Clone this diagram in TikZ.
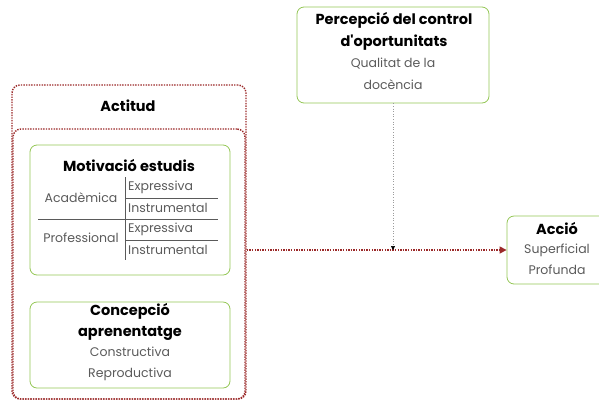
\documentclass[tikz,border=0pt]{standalone}
\usepackage{fontspec}
\setmainfont{Poppins}[Ligatures=TeXOff]
\usepackage{tikz}
\usetikzlibrary{arrows.meta}

\definecolor{verd}{RGB}{148,198,85}
\definecolor{granat}{RGB}{155,42,42}
\definecolor{gris}{RGB}{90,90,90}

\tikzset{
  caixa/.style={draw=verd, line width=0.8pt, rounded corners=7pt},
  puntejat/.style={draw=granat, line width=1.4pt, dash pattern=on 1.4pt off 1.2pt, rounded corners=8pt},
  titol/.style={font=\bfseries\fontsize{14.5}{21.5}\selectfont, inner sep=0pt},
  subtext/.style={text=gris, font=\fontsize{12.5}{21.5}\selectfont, inner sep=0pt},
  celda/.style={text=gris, font=\fontsize{12.5}{15}\selectfont, inner sep=0pt, anchor=west},
}

\begin{document}
\begin{tikzpicture}[x=1pt,y=-1pt]
		\useasboundingbox (0,0) rectangle (599,400);

		% Actitud (caixes puntejades)
		\node[puntejat, minimum width=234, minimum height=314] (actitud) at (129,242) {};
		\node[puntejat, minimum width=232, minimum height=270] (interior) at (129,264) {};
		\node[titol] (tactitud) at (128,106) {Actitud};

		% Motivacio estudis
		\node[caixa, minimum width=200, minimum height=130] (motivacio) at (130,210) {};
		\node[titol] (tmotivacio) at (129,166) {Motivació estudis};
		\draw[gris, line width=0.7pt] (125,177) -- (125,260); % Linia vertical
		\draw[gris, line width=0.7pt] (125,198) -- (218,198);
		\draw[gris, line width=0.7pt] (38,219) -- (218,219);
		\draw[gris, line width=0.7pt] (125,240) -- (218,240);
		\node[subtext] (academica) at (81,198) {Acadèmica};
		\node[subtext] (professional) at (81,238) {Professional};
		\node[celda] (expr1) at (128,187) {Expressiva};
		\node[celda] (instr1) at (128,208) {Instrumental};
		\node[celda] (expr2) at (128,229) {Expressiva};
		\node[celda] (instr2) at (128,250) {Instrumental};

		% Concepcio aprenentatge
		\node[caixa, minimum width=200, minimum height=86] (concepcio) at (130,345) {};
		\node[titol, align=center] (tconcepcio) at (130,322) {Concepció\\aprenentatge};
		\node[subtext, align=center] (tipus) at (130,364) {Constructiva\\Reproductiva};

		% Percepcio del control
		\node[caixa, minimum width=192, minimum height=96] (percepcio) at (393,55) {};
		\node[titol, align=center] (tpercepcio) at (394,31.5) {Percepció del control\\d'oportunitats};
		\node[subtext, align=center] (qualitat) at (393,74) {Qualitat de la\\docència};

		% Accio
		\node[caixa, minimum width=100, minimum height=68] (accio) at (557,250) {};
		\node[titol] (taccio) at (557,229) {Acció};
		\node[subtext, align=center] (nivells) at (557,259.5) {Superficial\\Profunda};

		% Fletxes
		\coordinate (creu) at (percepcio.south |- accio.west);
		\draw[granat, line width=1.4pt, dash pattern=on 1.4pt off 1.2pt, -{Triangle[length=7pt,width=7pt]}] (actitud.east |- accio.west) -- (accio.west);
		\draw[gris!60, line width=0.6pt, dotted, -{Triangle[length=4pt,width=4pt,color=black]}] (percepcio.south) -- (creu);

	\end{tikzpicture}
\end{document}
